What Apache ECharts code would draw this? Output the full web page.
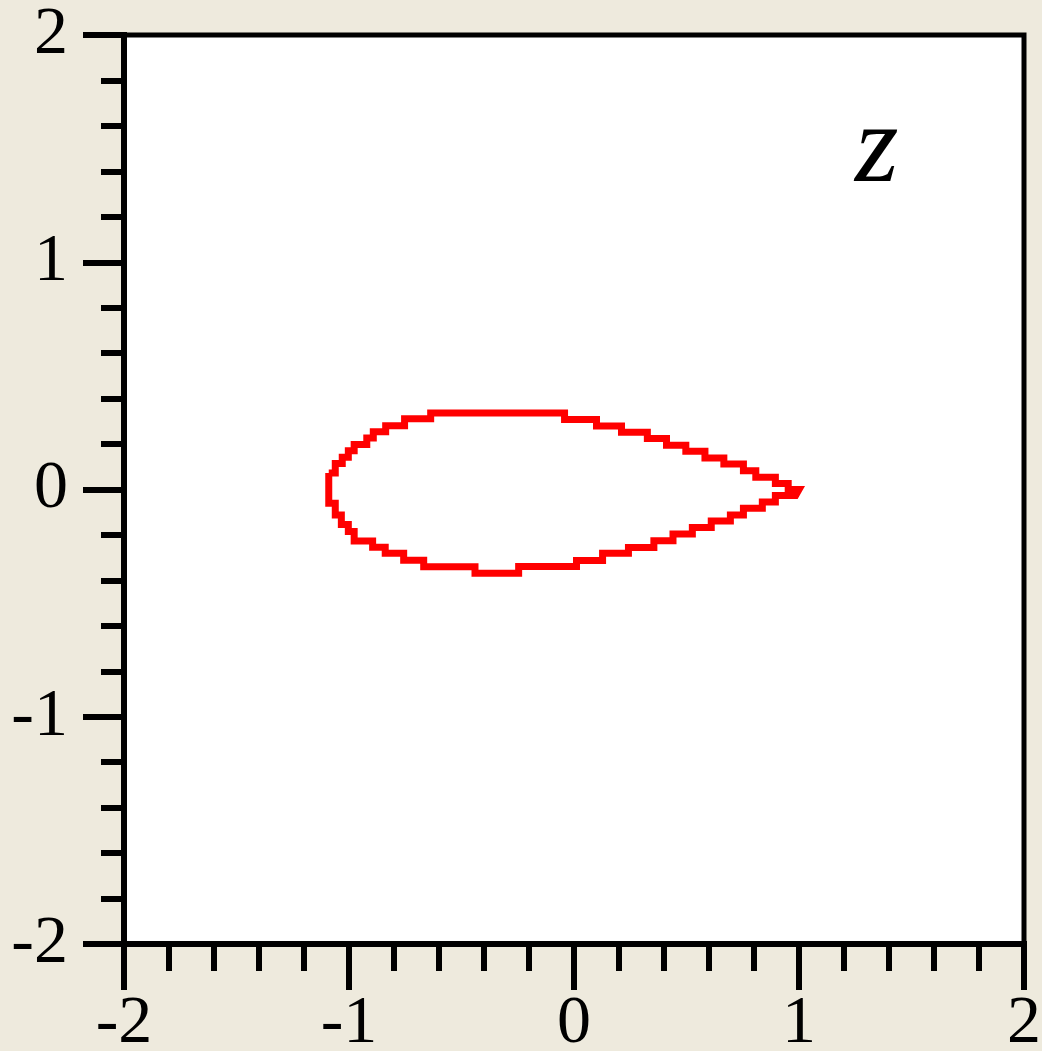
<!DOCTYPE html>
<html>
<head>
<meta charset="utf-8">
<script src="https://cdn.jsdelivr.net/npm/echarts@6/dist/echarts.min.js"></script>
<style>
  html, body { margin: 0; padding: 0; background: #eeeadd; }
  #chart { width: 1042px; height: 1051px; }
</style>
</head>
<body>
<div id="chart"></div>
<script>
// Axis ranges and tick labels
const xRange = [-2, 2];
const yRange = [-2, 2];
const tickLabels = ['-2', '-1', '0', '1', '2'];

// Contour in the z-plane, traced as a stepped outline.
// Upper side, running from the rounded nose to the trailing tip.
const upperX = [-1.090, -1.061, -1.061, -1.030, -1.030, -1.003, -1.003, -0.977, -0.977, -0.921,
                -0.921, -0.892, -0.892, -0.837, -0.837, -0.753, -0.753, -0.637, -0.637, -0.042,
                -0.042, 0.100, 0.100, 0.211, 0.211, 0.326, 0.326, 0.411, 0.411, 0.497,
                0.497, 0.582, 0.582, 0.666, 0.666, 0.753, 0.753, 0.808, 0.808, 0.895,
                0.895, 0.952, 0.952, 1.000];
const upperY = [0.073, 0.073, 0.114, 0.114, 0.142, 0.142, 0.170, 0.170, 0.198, 0.198,
                0.227, 0.227, 0.254, 0.254, 0.281, 0.281, 0.311, 0.311, 0.337, 0.337,
                0.308, 0.308, 0.279, 0.279, 0.252, 0.252, 0.224, 0.224, 0.195, 0.195,
                0.168, 0.168, 0.139, 0.139, 0.112, 0.112, 0.082, 0.082, 0.054, 0.054,
                0.026, 0.026, 0.000, 0.000];
// Lower side, running from the tip back to the nose.
const lowerX = [0.985, 0.895, 0.895, 0.837, 0.837, 0.753, 0.753, 0.695, 0.695, 0.610,
                0.610, 0.526, 0.526, 0.440, 0.440, 0.355, 0.355, 0.242, 0.242, 0.127,
                0.127, 0.011, 0.011, -0.246, -0.246, -0.440, -0.440, -0.668, -0.668, -0.757,
                -0.757, -0.839, -0.839, -0.895, -0.895, -0.977, -0.977, -1.003, -1.003, -1.034,
                -1.034, -1.061, -1.061, -1.090, -1.090];
const lowerY = [-0.026, -0.026, -0.055, -0.055, -0.082, -0.082, -0.112, -0.112, -0.139, -0.139,
                -0.167, -0.167, -0.196, -0.196, -0.226, -0.226, -0.255, -0.255, -0.281, -0.281,
                -0.312, -0.312, -0.339, -0.339, -0.368, -0.368, -0.340, -0.340, -0.311, -0.311,
                -0.281, -0.281, -0.254, -0.254, -0.227, -0.227, -0.185, -0.185, -0.154, -0.154,
                -0.112, -0.112, -0.060, -0.060, 0.073];

const contour = upperX.map((x, i) => [x, upperY[i]])
  .concat(lowerX.map((x, i) => [x, lowerY[i]]));

const serif = '"Liberation Serif", "Times New Roman", serif';

function axisCommon(labelMargin, majorLen, minorLen) {
  return {
    type: 'value',
    interval: 1,
    axisLine: { show: true, onZero: false, lineStyle: { color: '#000', width: 6, cap: 'square' } },
    axisTick: { show: true, inside: false, length: majorLen, lineStyle: { color: '#000', width: 6 } },
    minorTick: { show: true, splitNumber: 5, length: minorLen, lineStyle: { color: '#000', width: 6 } },
    splitLine: { show: false },
    minorSplitLine: { show: false },
    axisLabel: {
      show: true,
      margin: labelMargin,
      color: '#000',
      fontFamily: serif,
      fontSize: 68,
      formatter: v => tickLabels[Math.round(v) + 2]
    }
  };
}

const chart = echarts.init(document.getElementById('chart'), null, { renderer: 'canvas' });
chart.setOption({
  animation: false,
  backgroundColor: '#eeeadd',
  grid: {
    show: true,
    left: 124, right: 18, top: 35, bottom: 107,
    outerBoundsMode: 'none',
    containLabel: false,
    backgroundColor: '#ffffff',
    borderColor: '#000',
    borderWidth: 5
  },
  xAxis: Object.assign(axisCommon(46, 46, 27), { min: xRange[0], max: xRange[1], position: 'bottom' }),
  yAxis: Object.assign(axisCommon(56, 41, 23), { min: yRange[0], max: yRange[1], position: 'left' }),
  graphic: [{
    type: 'text',
    left: 855,
    top: 96,
    style: {
      text: 'z',
      font: 'italic 112px ' + serif,
      fill: '#000'
    }
  }],
  series: [{
    type: 'line',
    data: contour,
    showSymbol: false,
    smooth: false,
    lineStyle: { color: '#ff0000', width: 7, join: 'miter' }
  }]
});
</script>
</body>
</html>
